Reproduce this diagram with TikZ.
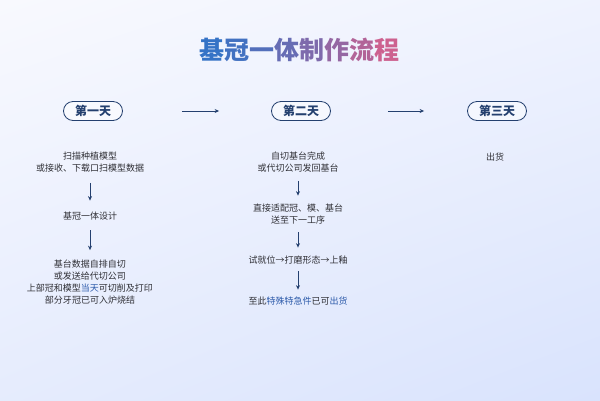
\documentclass[tikz,border=0pt]{standalone}
\usepackage{fontspec}
\setmainfont{Noto Sans CJK SC}
\usepackage{tikz}
\usetikzlibrary{arrows.meta,positioning,shadings}
\usepackage{xcolor}
\definecolor{FlowNavy}{HTML}{24406F}
\definecolor{FlowText}{HTML}{2F2F35}
\definecolor{FlowBlue}{HTML}{2D5BAA}
\definecolor{TitleBlue}{HTML}{3573C6}
\definecolor{TitlePink}{HTML}{DA5F8A}
\definecolor{BgTop}{HTML}{F8F9FE}
\definecolor{BgBot}{HTML}{D9E3FD}
\newcommand{\hl}[1]{\textcolor{FlowBlue}{#1}}
\newcommand{\tc}[2]{\textcolor{TitleBlue!#1!TitlePink}{#2}}

\tikzset{
  day/.style={draw=FlowNavy,line width=0.8pt,rounded corners=9.5pt,fill=white,fill opacity=0.5,text opacity=1,
    minimum width=59pt,minimum height=19pt,inner sep=0pt,text=FlowNavy,font=\fontsize{12}{12}\selectfont\bfseries},
  txt/.style={align=center,inner sep=0pt,text=FlowText,font=\fontsize{9}{12}\selectfont},
  flow/.style={-{Stealth[length=4.5pt,width=4pt]},FlowNavy,line width=0.8pt},
}

\begin{document}
\begin{tikzpicture}[x=1pt,y=-1pt]
  \shade[upper left=BgTop,upper right=BgTop!70!BgBot,lower left=BgTop!40!BgBot,lower right=BgBot] (0,0) rectangle (600,400);
  \useasboundingbox (0,0) rectangle (600,400);
  % title
  \node[font=\fontsize{25}{25}\selectfont\bfseries] (title) at (299,50)
    {\tc{100}{基}\tc{92}{冠}\tc{82}{一}\tc{70}{体}\tc{56}{制}\tc{42}{作}\tc{24}{流}\tc{8}{程}};
  % days
  \node[day] (d1) at (93,111) {第一天};
  \node[day] (d2) at (301,111) {第二天};
  \node[day] (d3) at (497,111) {第三天};
  \draw[flow,shorten <=59pt,shorten >=52pt] (d1) -- (d2);
  \draw[flow,shorten <=57pt,shorten >=43pt] (d2) -- (d3);
  % day one
  \node[txt] (a1) at (90,162.5) {扫描种植模型\\或接收、下载口扫模型数据};
  \node[txt] (a2) at (90,216) {基冠一体设计};
  \node[txt] (a3) at (90,282.5) {基台数据自排自切\\或发送给代切公司\\上部冠和模型\hl{当天}可切削及打印\\部分牙冠已可入炉烧结};
  \draw[flow,shorten <=10pt,shorten >=11pt] (a1) -- (a2);
  \draw[flow,shorten <=10pt,shorten >=10pt] (a2) -- (a3);
  % day two
  \node[txt] (b1) at (298,162.5) {自切基台完成\\或代切公司发回基台};
  \node[txt] (b2) at (298,214) {直接适配冠、模、基台\\送至下一工序};
  \node[txt] (b3) at (298,260) {试就位→打磨形态→上釉};
  \node[txt] (b4) at (298,301) {至此\hl{特殊特急件}已可\hl{出货}};
  \draw[flow,shorten <=8pt,shorten >=8pt] (b1) -- (b2);
  \draw[flow,shorten <=8pt,shorten >=8pt] (b2) -- (b3);
  \draw[flow,shorten <=7pt,shorten >=7pt] (b3) -- (b4);
  % day three
  \node[txt] (c1) at (495,157) {出货};
\end{tikzpicture}
\end{document}
